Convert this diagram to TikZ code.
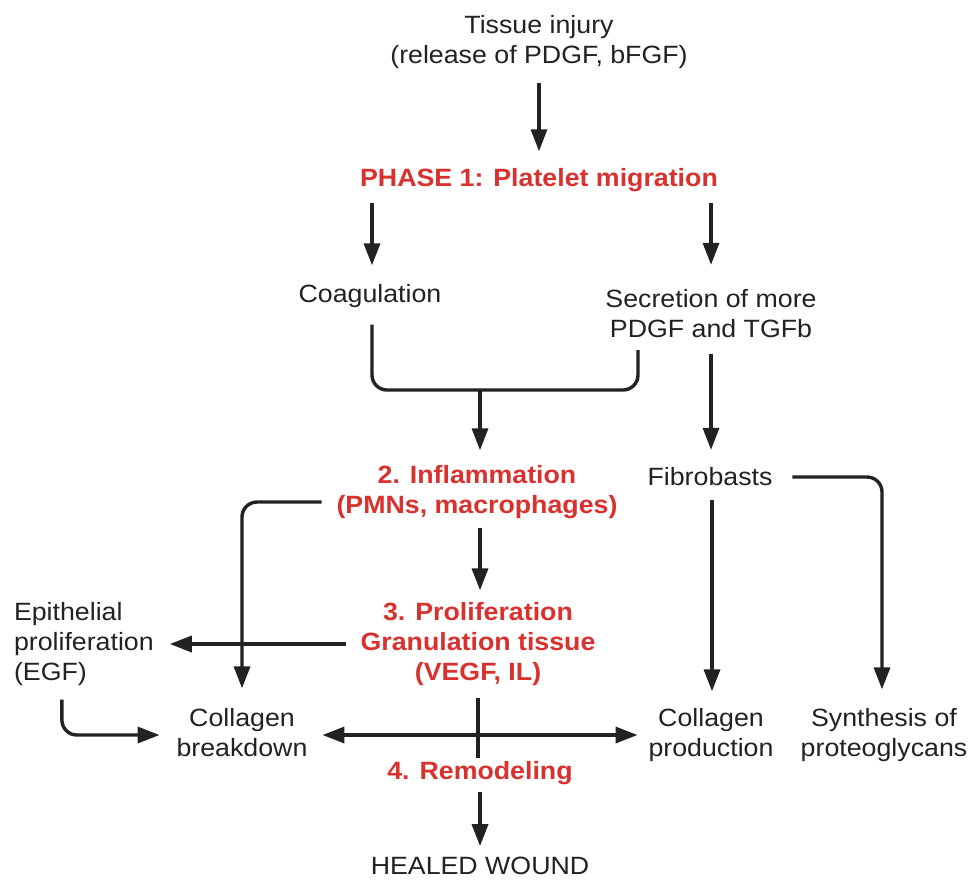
\documentclass[tikz,border=0pt]{standalone}
\usepackage{fontspec}
\setmainfont[FakeStretch=1.07]{Liberation Sans}
\usetikzlibrary{arrows.meta}
\definecolor{ink}{HTML}{222222}
\definecolor{phase}{HTML}{D8312E}
\begin{document}
\begin{tikzpicture}[x=1pt,y=-1pt,
  txt/.style={inner sep=0pt, outer sep=0pt, align=center, text=ink, font=\fontsize{25}{30}\selectfont},
  ph/.style={txt, text=phase, font=\fontsize{25}{30}\selectfont\bfseries},
  conn/.style={draw=ink, line width=3.4pt, shorten <=14pt, shorten >=14pt},
  arr/.style={conn, -{Triangle[length=22pt,width=16pt]}},
  dbl/.style={conn, {Triangle[length=22pt,width=16pt]}-{Triangle[length=22pt,width=16pt]}},
]
\useasboundingbox[fill=white] (0,0) rectangle (979,879);

\node[txt] (tissue) at (539,42) {Tissue injury\\(release of PDGF, bFGF)};
\node[ph] (phase1) at (539,180) {PHASE 1: Platelet migration};
\node[txt] (coag) at (370,296) {Coagulation};
\node[txt] (secr) at (711,314) {Secretion of more\\PDGF and TGFb};
\node[ph] (infl) at (477,492) {2. Inflammation\\(PMNs, macrophages)};
\node[txt] (fibro) at (710,477) {Fibrobasts};
\node[ph] (prolif) at (478,644) {3. Proliferation\\Granulation tissue\\(VEGF, IL)};
\node[txt, anchor=west, align=left] (epi) at (14,644) {Epithelial\\proliferation\\(EGF)};
\node[txt] (cbreak) at (242,735) {Collagen\\breakdown\vphantom{p}};
\node[txt] (cprod) at (711,735) {Collagen\\production};
\node[txt] (synth) at (884,735) {Synthesis of\\proteoglycans};
\node[ph] (remod) at (480,773) {4. Remodeling};
\node[txt] (healed) at (480,866) {HEALED WOUND};

\coordinate (mj) at (480,390);
\coordinate (mr) at (638,350);

\draw[arr, shorten >=17pt] (tissue.south) -- (phase1.north);
\draw[arr, shorten <=11pt, shorten >=19pt] ([xshift=2pt]phase1.south -| coag.north) -- ([xshift=2pt]coag.north);
\draw[arr, shorten <=11pt, shorten >=25pt] (phase1.south -| secr.north) -- (secr.north);
\draw[conn, rounded corners=15pt, shorten <=17pt, shorten >=0pt] ([xshift=2pt]coag.south) |- (mj) -| (mr);
\draw[arr, shorten <=0pt, shorten >=15pt] (mj) -- (mj |- infl.north);
\draw[arr, shorten <=16pt, shorten >=18pt] (secr.south) -- (secr.south |- fibro.north);
\draw[arr, rounded corners=15pt, shorten <=15pt, shorten >=20pt] ([yshift=-10pt]infl.west) -| (cbreak.north);
\draw[arr, shorten <=9pt, shorten >=12pt] (mj |- infl.south) -- (mj |- prolif.north);
\draw[arr, shorten <=15pt, shorten >=16pt] (prolif.west) -- (prolif.west -| epi.east);
\draw[arr, rounded corners=15pt, shorten <=14pt, shorten >=17pt] ([xshift=-22pt]epi.south) |- (cbreak.west);
\draw[conn, shorten <=12pt, shorten >=3pt] (prolif.south) -- (prolif.south |- remod.north);
\draw[dbl, shorten <=15pt, shorten >=11pt] (cbreak.east) -- (cprod.west);
\draw[arr, shorten <=7pt, shorten >=11pt] (remod.south) -- (healed.north);
\draw[arr, shorten <=14pt, shorten >=17pt] ([xshift=2pt]fibro.south) -- ([xshift=2pt]fibro.south |- cprod.north);
\draw[arr, rounded corners=15pt, shorten <=20pt, shorten >=19pt] (fibro.east) -| ([xshift=-2pt]synth.north);
\end{tikzpicture}
\end{document}
